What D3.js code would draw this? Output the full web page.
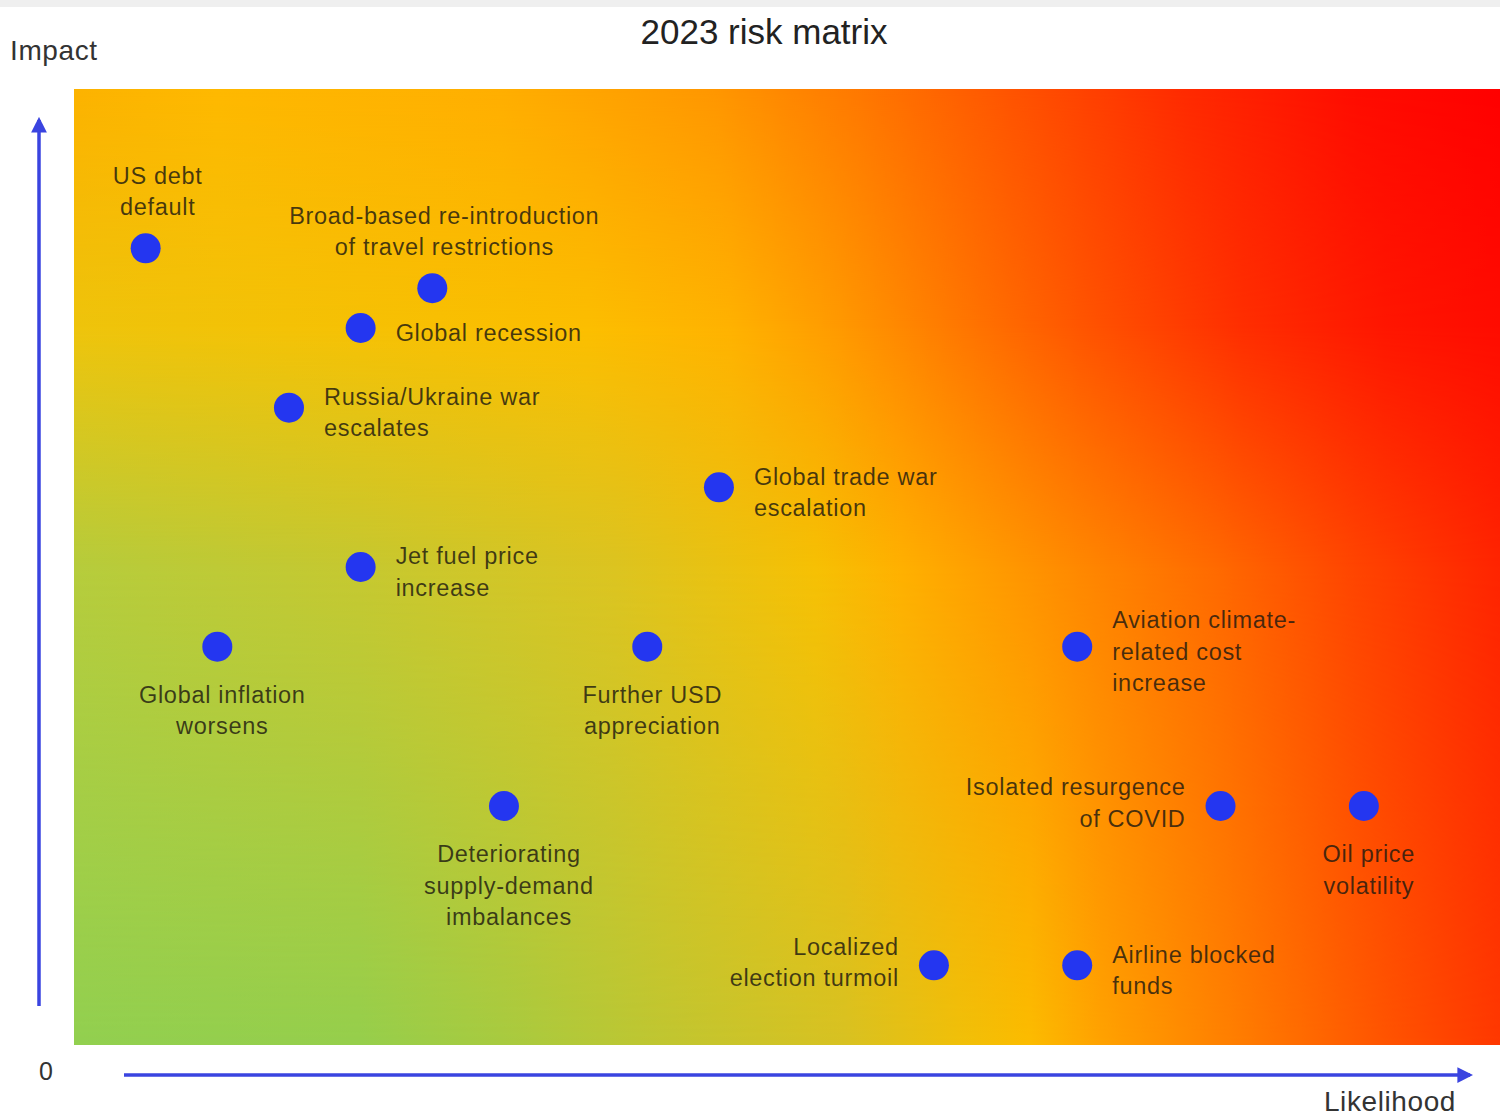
<!DOCTYPE html>
<html>
<head>
<meta charset="utf-8">
<script src="https://cdn.jsdelivr.net/npm/d3@7"></script>
<style>
  body { margin: 0; background: #fff; }
  svg { display: block; font-family: "Liberation Sans", Arial, sans-serif; }
</style>
</head>
<body>
<div id="chart"></div>
<script>
// risk names (one entry per line of the label)
const risks = [
  ["US debt", "default"],
  ["Broad-based re-introduction", "of travel restrictions"],
  ["Global recession"],
  ["Russia/Ukraine  war", "escalates"],
  ["Global trade war", "escalation"],
  ["Jet fuel price", "increase"],
  ["Global inflation", "worsens"],
  ["Further USD", "appreciation"],
  ["Aviation climate-", "related cost", "increase"],
  ["Deteriorating", "supply-demand", "imbalances"],
  ["Isolated resurgence", "of COVID"],
  ["Oil price", "volatility"],
  ["Localized", "election turmoil"],
  ["Airline blocked", "funds"]
];
// likelihood (x) and impact (y)
const likelihood = [1, 5, 4, 3, 9, 4, 2, 8, 14, 6, 16, 18, 12, 14];
const impact     = [10, 9.5, 9, 8, 7, 6, 5, 5, 5, 3, 3, 3, 1, 1];
// which side of the dot the label sits on
const labelSide  = ["above", "above", "right", "right", "right", "right", "below",
                    "below", "right", "below", "left", "below", "left", "right"];

const title = "2023 risk matrix";
const xTitle = "Likelihood";
const yTitle = "Impact";
const originLabel = "0";

// background colour rows, stops along likelihood (0 = left, 1 = right)
const bottomStops = [[0, "#92d050"], [0.2, "#96cf4c"], [0.3, "#a8cb40"], [0.42, "#c2c630"], [0.54, "#d8c222"],
                     [0.62, "#f0c00a"], [0.67, "#fcbc00"], [0.72, "#ffa200"], [0.82, "#ff7c00"], [0.92, "#ff5400"], [1, "#ff3800"]];
const middleStops = [[0, "#b6cc3c"], [0.2, "#c6c830"], [0.38, "#dcc420"], [0.52, "#f6c004"], [0.58, "#ffb000"],
                     [0.68, "#ff9000"], [0.8, "#ff6a00"], [0.9, "#ff4400"], [1, "#ff2400"]];
const upperStops  = [[0, "#eec40c"], [0.15, "#f4c206"], [0.36, "#fcbe00"], [0.46, "#ffb200"], [0.53, "#ff9c00"],
                     [0.62, "#ff7800"], [0.71, "#ff5400"], [0.82, "#ff2e00"], [0.92, "#ff1600"], [1, "#ff0c00"]];
const topStops    = [[0, "#fcb200"], [0.1, "#feb800"], [0.3, "#ffae00"], [0.45, "#ff9600"], [0.55, "#ff7800"],
                     [0.65, "#ff5600"], [0.78, "#ff2a00"], [0.9, "#ff0c00"], [1, "#ff0000"]];

const width = 1500, height = 1117;
const plot = {left: 74, right: 1500, top: 89, bottom: 1045};
const axisBlue = "#3a44e0";
const dotBlue = "#2436f0";

const svg = d3.select("#chart").append("svg")
  .attr("width", width)
  .attr("height", height);

const x = d3.scaleLinear().domain([0, 19.9]).range([plot.left, plot.right]);
const y = d3.scaleLinear().domain([0, 12]).range([plot.bottom, plot.top]);

const defs = svg.append("defs");

// horizontal gradients for each row
function rowGradient(id, stops) {
  const g = defs.append("linearGradient").attr("id", id)
    .attr("x1", 0).attr("y1", 0).attr("x2", 1).attr("y2", 0);
  g.selectAll("stop").data(stops).join("stop")
    .attr("offset", d => d[0])
    .attr("stop-color", d => d[1]);
}
rowGradient("gBottom", bottomStops);
rowGradient("gMiddle", middleStops);
rowGradient("gUpper", upperStops);
rowGradient("gTop", topStops);

// vertical masks to blend the rows (offset 0 = top of plot)
function verticalMask(id, stops) {
  const g = defs.append("linearGradient").attr("id", id + "Grad")
    .attr("x1", 0).attr("y1", 0).attr("x2", 0).attr("y2", 1);
  g.selectAll("stop").data(stops).join("stop")
    .attr("offset", d => d[0])
    .attr("stop-color", d => d[1]);
  defs.append("mask").attr("id", id)
    .append("rect")
    .attr("x", plot.left).attr("y", plot.top)
    .attr("width", plot.right - plot.left).attr("height", plot.bottom - plot.top)
    .attr("fill", `url(#${id}Grad)`);
}
verticalMask("mMiddle", [[0, "white"], [0.5, "white"], [1, "black"]]);
verticalMask("mUpper", [[0, "white"], [0.25, "white"], [0.5, "black"], [1, "black"]]);
verticalMask("mTop", [[0, "white"], [0.25, "black"], [1, "black"]]);

// arrow head
defs.append("marker").attr("id", "arrow")
  .attr("viewBox", "0 0 10 10")
  .attr("refX", 8).attr("refY", 5)
  .attr("markerWidth", 4.5).attr("markerHeight", 4.5)
  .attr("orient", "auto")
  .append("path").attr("d", "M0,0 L10,5 L0,10 z").attr("fill", axisBlue);

// top grey strip
svg.append("rect").attr("x", 0).attr("y", 0).attr("width", width).attr("height", 7).attr("fill", "#efefef");

// background layers
const bg = svg.append("g");
[["gBottom", null], ["gMiddle", "mMiddle"], ["gUpper", "mUpper"], ["gTop", "mTop"]].forEach(([grad, mask]) => {
  const r = bg.append("rect")
    .attr("x", plot.left).attr("y", plot.top)
    .attr("width", plot.right - plot.left).attr("height", plot.bottom - plot.top)
    .attr("fill", `url(#${grad})`);
  if (mask) r.attr("mask", `url(#${mask})`);
});

// axes arrows
svg.append("line")
  .attr("x1", 39).attr("y1", 1006).attr("x2", 39).attr("y2", 120)
  .attr("stroke", axisBlue).attr("stroke-width", 3.5)
  .attr("marker-end", "url(#arrow)");
svg.append("line")
  .attr("x1", 124).attr("y1", 1075).attr("x2", 1470).attr("y2", 1075)
  .attr("stroke", axisBlue).attr("stroke-width", 3.5)
  .attr("marker-end", "url(#arrow)");

// titles
svg.append("text").attr("x", 764).attr("y", 31)
  .attr("text-anchor", "middle").attr("dominant-baseline", "central")
  .attr("font-size", 35).attr("fill", "#222").text(title);
svg.append("text").attr("x", 10).attr("y", 50)
  .attr("dominant-baseline", "central").attr("letter-spacing", 0.6)
  .attr("font-size", 28).attr("fill", "#333").text(yTitle);
svg.append("text").attr("x", 1456).attr("y", 1101)
  .attr("text-anchor", "end").attr("dominant-baseline", "central").attr("letter-spacing", 0.6)
  .attr("font-size", 28).attr("fill", "#333").text(xTitle);
svg.append("text").attr("x", 46).attr("y", 1071)
  .attr("text-anchor", "middle").attr("dominant-baseline", "central")
  .attr("font-size", 25).attr("fill", "#333").text(originLabel);

const data = risks.map((lines, i) => ({
  lines, x: likelihood[i], y: impact[i], side: labelSide[i]
}));

// dots
svg.append("g").selectAll("circle")
  .data(data)
  .join("circle")
  .attr("cx", d => x(d.x))
  .attr("cy", d => y(d.y))
  .attr("r", 15)
  .attr("fill", dotBlue);

// labels
const lineH = 31.5;
function labelPos(d) {
  const cx = x(d.x), cy = y(d.y), n = d.lines.length;
  if (d.side === "above") return {x: cx + 12, y0: cy - 41 - (n - 1) * lineH, anchor: "middle"};
  if (d.side === "below") return {x: cx + 5, y0: cy + 48, anchor: "middle"};
  if (d.side === "left")  return {x: cx - 35, y0: cy - 3 - (n - 1) * lineH / 2, anchor: "end"};
  return {x: cx + 35, y0: cy + 5 - (n - 1) * lineH / 2, anchor: "start"};
}

svg.append("g").selectAll("text")
  .data(data)
  .join("text")
  .attr("font-size", 23.5)
  .attr("letter-spacing", 0.7)
  .attr("fill", "#1e1a10")
  .attr("fill-opacity", 0.82)
  .attr("text-anchor", d => labelPos(d).anchor)
  .each(function (d) {
    const p = labelPos(d);
    d3.select(this).selectAll("tspan")
      .data(d.lines)
      .join("tspan")
      .attr("x", p.x)
      .attr("y", (l, j) => p.y0 + j * lineH)
      .attr("dominant-baseline", "central")
      .text(l => l);
  });
</script>
</body>
</html>
